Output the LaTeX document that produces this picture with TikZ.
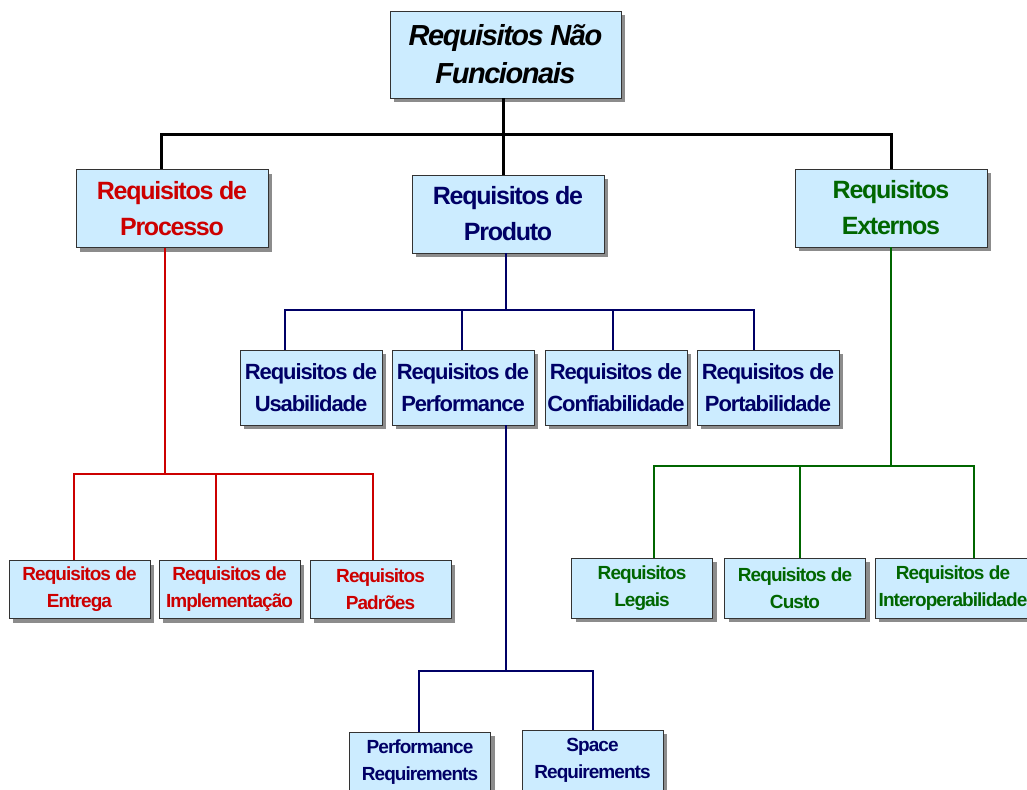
\documentclass[tikz,border=0pt]{standalone}
\usepackage{fontspec}
\setmainfont{Liberation Sans}
\newfontfamily\boxfont[LetterSpace=-5]{Liberation Sans}
\usetikzlibrary{shadows}
\definecolor{boxfill}{HTML}{CCECFF}
\definecolor{redtxt}{HTML}{CC0000}
\definecolor{navytxt}{HTML}{000066}
\definecolor{greentxt}{HTML}{006600}
\definecolor{shadowgray}{HTML}{8C8C8C}
\definecolor{edgegray}{HTML}{333333}
\begin{document}
\begin{tikzpicture}[x=1pt,y=-1pt,
  reqbox/.style={draw=edgegray, line width=0.9pt, fill=boxfill, align=center,
    inner sep=0pt,
    drop shadow={shadow xshift=4pt, shadow yshift=-4pt, fill=shadowgray, opacity=1}},
  rootbox/.style={reqbox, minimum width=231pt, minimum height=87pt,
    font=\boxfont\bfseries\itshape\fontsize{29}{38}\selectfont},
  lvlone/.style={reqbox, minimum width=192pt, minimum height=78pt,
    font=\boxfont\bfseries\fontsize{25}{36}\selectfont},
  lvltwo/.style={reqbox, minimum width=142pt, minimum height=75pt,
    font=\boxfont\bfseries\fontsize{22}{32}\selectfont},
  lvlthree/.style={reqbox, minimum width=141pt, minimum height=58pt,
    font=\boxfont\bfseries\fontsize{19}{27}\selectfont},
  blackline/.style={draw=black, line width=3pt},
  redline/.style={draw=redtxt, line width=2.5pt},
  navyline/.style={draw=navytxt, line width=2.5pt},
  greenline/.style={draw=greentxt, line width=2.5pt}]

\useasboundingbox (0,0) rectangle (1027,789);
\fill[white] (0,0) rectangle (1027,789);
\clip (0,0) rectangle (1027,789);

% junction points of the tree
\coordinate (j0) at (503,134);
\coordinate (jr) at (165,474);
\coordinate (jb) at (506,310);
\coordinate (jp) at (506,671);
\coordinate (jg) at (891,466);

% boxes
\node[rootbox] (root) at (505.5,54.5) {Requisitos Não\\Funcionais};

\node[lvlone, text=redtxt] (proc) at (172,208.5) {Requisitos de\\Processo};
\node[lvlone, text=navytxt] (prod) at (508,214) {Requisitos de\\Produto};
\node[lvlone, text=greentxt] (ext) at (891,208) {Requisitos\\Externos};

\node[lvltwo, text=navytxt] (usab) at (311,387.5) {Requisitos de\\Usabilidade};
\node[lvltwo, text=navytxt] (perf) at (463,387.5) {Requisitos de\\Performance};
\node[lvltwo, text=navytxt] (conf) at (616,387.5) {Requisitos de\\Confiabilidade};
\node[lvltwo, text=navytxt] (port) at (768,387.5) {Requisitos de\\Portabilidade};

\node[lvlthree, text=redtxt] (entr) at (79.5,589.5) {Requisitos de\\Entrega};
\node[lvlthree, text=redtxt] (impl) at (229.5,589.5) {Requisitos de\\Implementação};
\node[lvlthree, text=redtxt] (padr) at (380.5,589.5) {Requisitos\\Padrões};

\node[lvlthree, minimum height=60pt, text=greentxt] (legal) at (642,588) {Requisitos\\Legais};
\node[lvlthree, minimum height=60pt, text=greentxt] (custo) at (795,588) {Requisitos de\\Custo};
\node[lvlthree, minimum height=60pt, minimum width=156pt, text=greentxt] (inter) at (953,588) {Requisitos de\\Interoperabilidade};

\node[lvlthree, minimum height=60pt, text=navytxt] (perfreq) at (420,762) {Performance\\Requirements};
\node[lvlthree, minimum height=60pt, text=navytxt] (spacereq) at (592.5,760) {Space\\Requirements};

% top level connectors
\draw[blackline] (root.south -| j0) -- (prod.north -| j0);
\draw[blackline] ([xshift=-11pt]proc.north) |- (j0) -| (ext.north);

% process branch
\draw[redline] (proc.south -| jr) -- (jr);
\draw[redline] ([xshift=-5.5pt]entr.north) |- (jr) -| ([xshift=-7.5pt]padr.north);
\draw[redline] ([xshift=-13.5pt]impl.north) -- ([xshift=-13.5pt]impl.north |- jr);

% product branch
\draw[navyline] (prod.south -| jb) -- (jb);
\draw[navyline] ([xshift=-26pt]usab.north) |- (jb) -| ([xshift=-14pt]port.north);
\draw[navyline] ([xshift=-1pt]perf.north) -- ([xshift=-1pt]perf.north |- jb);
\draw[navyline] ([xshift=-3pt]conf.north) -- ([xshift=-3pt]conf.north |- jb);

% performance branch
\draw[navyline] (perf.south -| jp) -- (jp);
\draw[navyline] ([xshift=-1pt]perfreq.north) |- (jp) -| ([xshift=0.5pt]spacereq.north);

% external branch
\draw[greenline] (ext.south) -- (jg);
\draw[greenline] ([xshift=12pt]legal.north) |- (jg) -| ([xshift=21pt]inter.north);
\draw[greenline] ([xshift=5pt]custo.north) -- ([xshift=5pt]custo.north |- jg);
\end{tikzpicture}
\end{document}
